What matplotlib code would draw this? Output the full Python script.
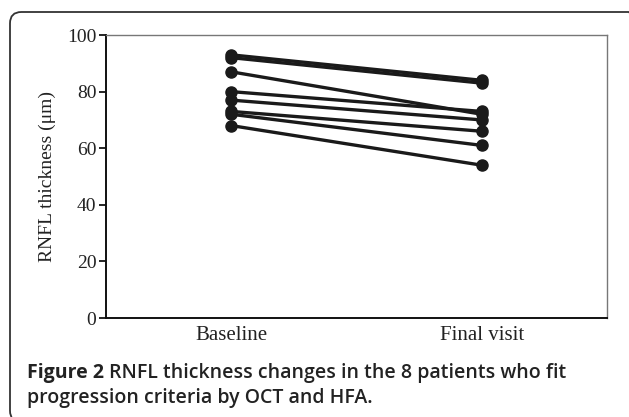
import matplotlib.pyplot as plt
from matplotlib.patches import FancyBboxPatch

# RNFL thickness per patient (um)
categories = ['Baseline', 'Final visit']
baseline = [93, 92, 87, 80, 77, 73, 72, 68]
final_visit = [84, 83, 72, 73, 70, 66, 61, 54]
yticks = [0, 20, 40, 60, 80, 100]

fig = plt.figure(figsize=(6.29, 4.17), dpi=100)
ax = fig.add_axes([0.1685, 0.2374, 0.7965, 0.6786])

for b, f in zip(baseline, final_visit):
    ax.plot([0, 1], [b, f], color='#1a1a1a', lw=2.4, marker='o', ms=8,
            solid_capstyle='round', zorder=3)

ax.set_xlim(-0.5, 1.5)
ax.set_ylim(0, 100)
ax.set_xticks([0, 1])
ax.set_xticklabels(categories, family='Liberation Serif', fontsize=15, color='#222222')
ax.set_yticks(yticks)
ax.set_yticklabels([str(t) for t in yticks], family='Liberation Serif', fontsize=14, color='#222222')
ax.tick_params(axis='x', length=0, pad=6)
ax.tick_params(axis='y', direction='out', length=5, width=1.2, pad=2)
ax.set_ylabel('RNFL thickness (μm)', family='Liberation Serif', fontsize=14, color='#222222', labelpad=8)

ax.spines['left'].set_linewidth(1.4)
ax.spines['bottom'].set_linewidth(1.4)
ax.spines['left'].set_color('#111111')
ax.spines['bottom'].set_color('#111111')
ax.spines['top'].set_color('#777777')
ax.spines['right'].set_color('#777777')
ax.spines['top'].set_linewidth(1.0)
ax.spines['right'].set_linewidth(1.0)

# rounded outer frame
frame = FancyBboxPatch((10 / 629, -5 / 417), 630 / 629, 410 / 417,
                       boxstyle='round,pad=0,rounding_size=0.018',
                       mutation_aspect=629 / 417,
                       transform=fig.transFigure, fill=False,
                       edgecolor='#333333', lw=1.3, clip_on=False)
fig.patches.append(frame)

fig.text(27 / 629, 1 - 373 / 417, 'Figure 2', family='Open Sans', fontweight='bold',
         fontsize=14, color='#222222', va='center')
fig.text(109 / 629, 1 - 373 / 417, 'RNFL thickness changes in the 8 patients who fit',
         family='Open Sans', fontweight='semibold', fontsize=14, color='#222222', va='center')
fig.text(27 / 629, 1 - 398 / 417, 'progression criteria by OCT and HFA.',
         family='Open Sans', fontweight='semibold', fontsize=14, color='#222222', va='center')

fig.savefig('out.png', dpi=100)
